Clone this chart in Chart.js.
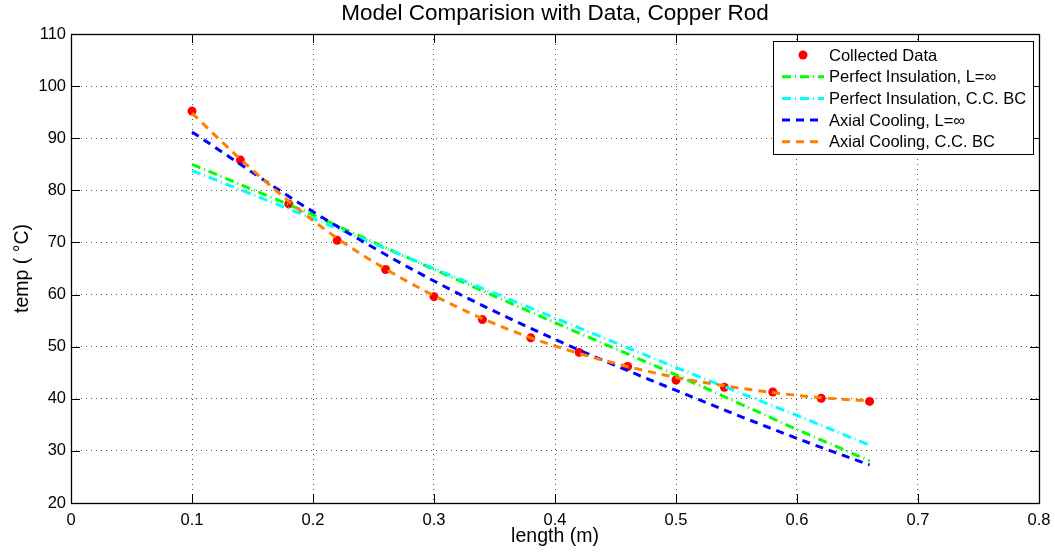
<!DOCTYPE html>
<html>
<head>
<meta charset="utf-8">
<script src="https://cdn.jsdelivr.net/npm/chart.js@4.4.1/dist/chart.umd.min.js"></script>
<style>
  body { margin: 0; background: #fff; }
  canvas { display: block; }
</style>
</head>
<body>
<canvas id="myChart" width="1055" height="554"></canvas>
<script>
// measured temperatures along the rod
const dataX = [0.10, 0.14, 0.18, 0.22, 0.26, 0.30, 0.34, 0.38, 0.42, 0.46, 0.50, 0.54, 0.58, 0.62, 0.66];
const dataTemp = [95.2, 85.8, 77.4, 70.4, 64.8, 59.6, 55.2, 51.7, 48.9, 46.2, 43.6, 42.2, 41.3, 40.1, 39.5];

// model curves
const modelX = [0.10, 0.20, 0.30, 0.40, 0.50, 0.60, 0.66];
const insulInf = [85.0, 75.3, 64.8, 54.6, 44.6, 34.1, 28.1];
const insulCC = [83.8, 74.6, 65.0, 55.5, 46.0, 36.8, 31.1];
const axialInf = [91.2, 75.9, 62.6, 51.4, 41.6, 32.4, 27.3];
const axialCC = [94.8, 86.0, 77.9, 70.8, 64.9, 59.8, 55.4, 51.7, 48.7, 46.2, 44.1, 42.5, 41.2, 40.2, 39.6];

const xTicks = [0, 0.1, 0.2, 0.3, 0.4, 0.5, 0.6, 0.7, 0.8];
const yTicks = [20, 30, 40, 50, 60, 70, 80, 90, 100, 110];

const FONT = "'Liberation Sans', Arial, Helvetica, sans-serif";

function pts(xs, ys) {
    return xs.map(function (x, i) { return { x: x, y: ys[i] }; });
}

// black box round the axes plus inward tick marks on all four sides
const frameTicks = {
    id: 'frameTicks',
    afterDraw: function (chart) {
        const ctx = chart.ctx;
        const a = chart.chartArea;
        const xs = chart.scales.x, ys = chart.scales.y;
        ctx.save();
        ctx.strokeStyle = '#000';
        ctx.lineWidth = 1;
        ctx.setLineDash([]);
        ctx.beginPath();
        xTicks.forEach(function (t) {
            const px = Math.round(xs.getPixelForValue(t)) + 0.5;
            ctx.moveTo(px, a.bottom); ctx.lineTo(px, a.bottom - 9);
            ctx.moveTo(px, a.top); ctx.lineTo(px, a.top + 9);
        });
        yTicks.forEach(function (t) {
            const py = Math.round(ys.getPixelForValue(t)) + 0.5;
            ctx.moveTo(a.left, py); ctx.lineTo(a.left + 9, py);
            ctx.moveTo(a.right, py); ctx.lineTo(a.right - 9, py);
        });
        ctx.stroke();
        ctx.lineWidth = 1.3;
        ctx.strokeRect(Math.round(a.left) + 0.5, Math.round(a.top) + 0.5,
            Math.round(a.right - a.left), Math.round(a.bottom - a.top));
        ctx.restore();
    }
};

// matlab style legend box in the top right corner
const legendBox = {
    id: 'legendBox',
    afterDraw: function (chart) {
        const ctx = chart.ctx;
        const left = 773, top = 41, w = 260, h = 113;
        ctx.save();
        ctx.fillStyle = '#fff';
        ctx.fillRect(left, top, w, h);
        ctx.strokeStyle = '#000';
        ctx.lineWidth = 1;
        ctx.setLineDash([]);
        ctx.strokeRect(left + 0.5, top + 0.5, w, h);
        ctx.font = '16.5px ' + FONT;
        ctx.textBaseline = 'middle';
        ctx.textAlign = 'left';
        chart.data.datasets.forEach(function (ds, i) {
            const y = top + 14 + i * 21.7;
            if (ds.showLine === false) {
                ctx.fillStyle = ds.pointBackgroundColor;
                ctx.beginPath();
                ctx.arc(803, y, ds.pointRadius, 0, Math.PI * 2);
                ctx.fill();
            } else {
                ctx.strokeStyle = ds.borderColor;
                ctx.lineWidth = ds.borderWidth;
                ctx.setLineDash(ds.borderDash);
                ctx.beginPath();
                ctx.moveTo(782, y);
                ctx.lineTo(824, y);
                ctx.stroke();
                ctx.setLineDash([]);
            }
            ctx.fillStyle = '#000';
            ctx.fillText(ds.label, 829, y + 1);
        });
        ctx.restore();
    }
};

new Chart("myChart", {
    type: "scatter",
    data: {
        datasets: [{
            label: "Collected Data",
            data: pts(dataX, dataTemp),
            showLine: false,
            pointRadius: 4.5,
            pointBackgroundColor: "#ff0000",
            pointBorderColor: "#ff0000",
            pointBorderWidth: 0,
            order: 10
        }, {
            label: "Perfect Insulation, L=\u221e",
            data: pts(modelX, insulInf),
            showLine: true,
            borderColor: "#00ff00",
            borderWidth: 3,
            borderDash: [9, 4, 1, 4],
            pointRadius: 0,
            order: 4
        }, {
            label: "Perfect Insulation, C.C. BC",
            data: pts(modelX, insulCC),
            showLine: true,
            borderColor: "#00ffff",
            borderWidth: 3,
            borderDash: [9, 4, 1, 4],
            pointRadius: 0,
            order: 3
        }, {
            label: "Axial Cooling, L=\u221e",
            data: pts(modelX, axialInf),
            showLine: true,
            borderColor: "#0000ff",
            borderWidth: 3,
            borderDash: [8, 6],
            cubicInterpolationMode: "monotone",
            pointRadius: 0,
            order: 2
        }, {
            label: "Axial Cooling, C.C. BC",
            data: pts(dataX, axialCC),
            showLine: true,
            borderColor: "#ff8000",
            borderWidth: 3,
            borderDash: [8, 6],
            cubicInterpolationMode: "monotone",
            pointRadius: 0,
            order: 1
        }]
    },
    options: {
        responsive: false,
        animation: false,
        layout: { padding: { left: 0, right: 16, top: 0, bottom: 0 } },
        plugins: {
            legend: { display: false },
            tooltip: { enabled: false },
            title: {
                display: true,
                text: "Model Comparision with Data, Copper Rod",
                fullSize: false,
                color: "#000",
                font: { family: FONT, size: 22.5, weight: "normal", lineHeight: 1.2 },
                padding: { top: 0, bottom: 7 }
            }
        },
        scales: {
            x: {
                type: "linear",
                min: 0,
                max: 0.8,
                afterFit: function (s) { s.height = 51; s.paddingLeft = 0; s.paddingRight = 0; },
                afterBuildTicks: function (s) { s.ticks = xTicks.map(function (v) { return { value: v }; }); },
                ticks: {
                    color: "#000",
                    font: { family: FONT, size: 16.5 },
                    padding: 8,
                    maxRotation: 0,
                    callback: function (v) { return String(Number(v.toFixed(1))); }
                },
                grid: { color: "#555", drawTicks: false, lineWidth: 1 },
                border: { display: false, dash: [1, 4] },
                title: {
                    display: true,
                    text: "length (m)",
                    color: "#000",
                    font: { family: FONT, size: 19.5 },
                    padding: { top: 0, bottom: 6 }
                }
            },
            y: {
                type: "linear",
                min: 20,
                max: 110,
                afterFit: function (s) { s.width = 71; s.paddingTop = 0; s.paddingBottom = 0; },
                afterBuildTicks: function (s) { s.ticks = yTicks.map(function (v) { return { value: v }; }); },
                ticks: {
                    color: "#000",
                    font: { family: FONT, size: 16.5 },
                    padding: 5
                },
                grid: { color: "#555", drawTicks: false, lineWidth: 1 },
                border: { display: false, dash: [1, 4] },
                title: {
                    display: true,
                    text: "temp ( \u00b0C)",
                    color: "#000",
                    font: { family: FONT, size: 19.5 },
                    padding: { top: 11, bottom: 0 }
                }
            }
        }
    },
    plugins: [frameTicks, legendBox]
});
</script>
</body>
</html>
